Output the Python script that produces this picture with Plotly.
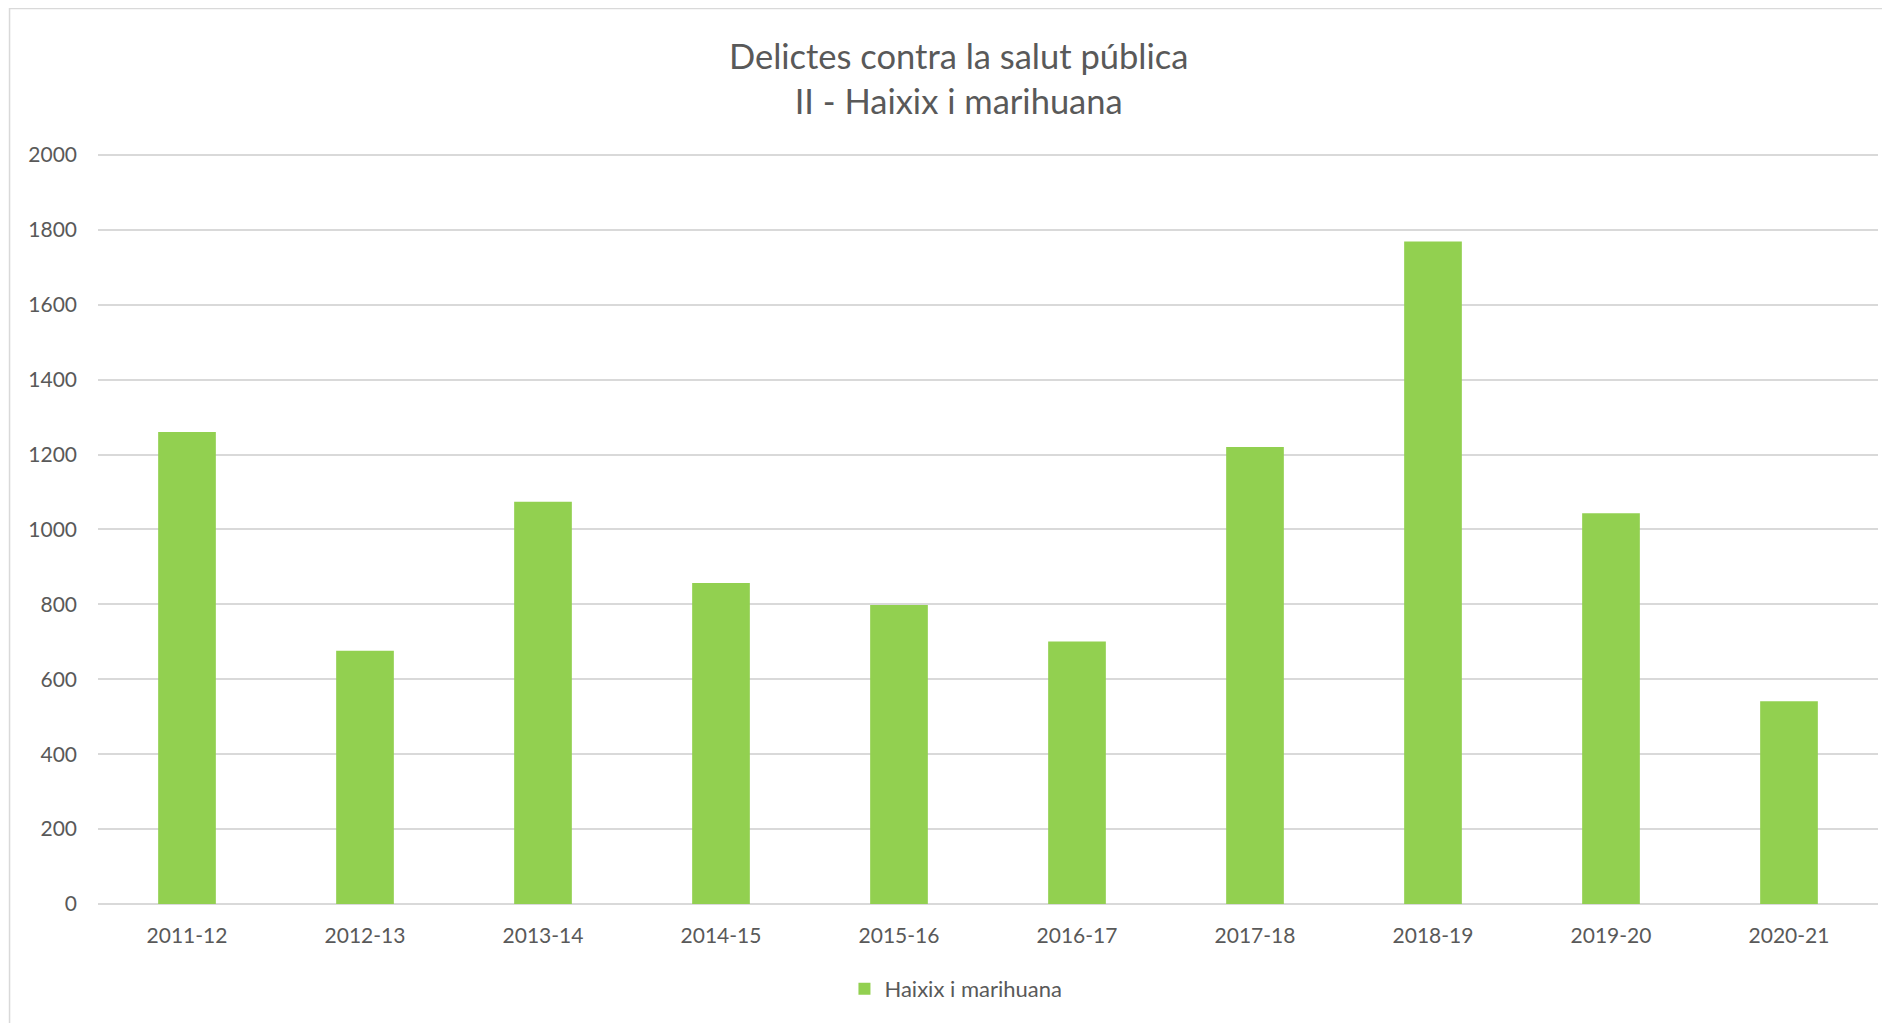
import plotly.graph_objects as go

# Data
seasons = ["2011-12", "2012-13", "2013-14", "2014-15", "2015-16",
           "2016-17", "2017-18", "2018-19", "2019-20", "2020-21"]
cases = [1260, 676, 1074, 857, 798, 701, 1220, 1769, 1043, 541]
y_ticks = [0, 200, 400, 600, 800, 1000, 1200, 1400, 1600, 1800, 2000]

text_color = "#595959"
grid_color = "#D9D9D9"
bar_color = "#92D050"
font_family = "Lato"

fig = go.Figure(
    go.Bar(
        x=seasons,
        y=cases,
        name="Haixix i marihuana",
        marker=dict(color=bar_color, line=dict(width=0)),
    )
)

# the page body adds an 8px offset, margins are trimmed to make up for it
fig.update_layout(
    width=1890,
    height=1023,
    paper_bgcolor="white",
    plot_bgcolor="white",
    font=dict(family=font_family, color=text_color, size=21),
    title=dict(
        text="Delictes contra la salut pública<br>II - Haixix i marihuana",
        x=0.503,
        xanchor="center",
        xref="container",
        y=1 - 61 / 1023,
        yanchor="middle",
        yref="container",
        font=dict(family=font_family, size=34.5, color=text_color),
    ),
    margin=dict(l=90, r=20, t=145, b=127, autoexpand=False),
    bargap=0.676,
    showlegend=True,
    legend=dict(
        orientation="h",
        x=0.482,
        xanchor="center",
        y=-0.113,
        yanchor="middle",
        font=dict(family=font_family, size=22, color=text_color),
    ),
    shapes=[
        dict(
            type="rect",
            xref="paper",
            yref="paper",
            x0=-0.0497,
            x1=1.2,
            y0=-0.4,
            y1=1.1923,
            line=dict(color=grid_color, width=1.5),
            fillcolor="rgba(0,0,0,0)",
            layer="below",
        )
    ],
)

fig.update_xaxes(
    type="category",
    showgrid=False,
    showline=False,
    ticks="",
    ticklabelstandoff=17,
    tickfont=dict(size=21, color=text_color),
)

fig.update_yaxes(
    range=[0, 2005],
    tickvals=y_ticks,
    showgrid=True,
    gridcolor=grid_color,
    gridwidth=1.5,
    zeroline=True,
    zerolinecolor=grid_color,
    zerolinewidth=2,
    showline=False,
    ticks="",
    ticklabelstandoff=20,
    tickfont=dict(size=21, color=text_color),
)

fig.write_html("out.html")
